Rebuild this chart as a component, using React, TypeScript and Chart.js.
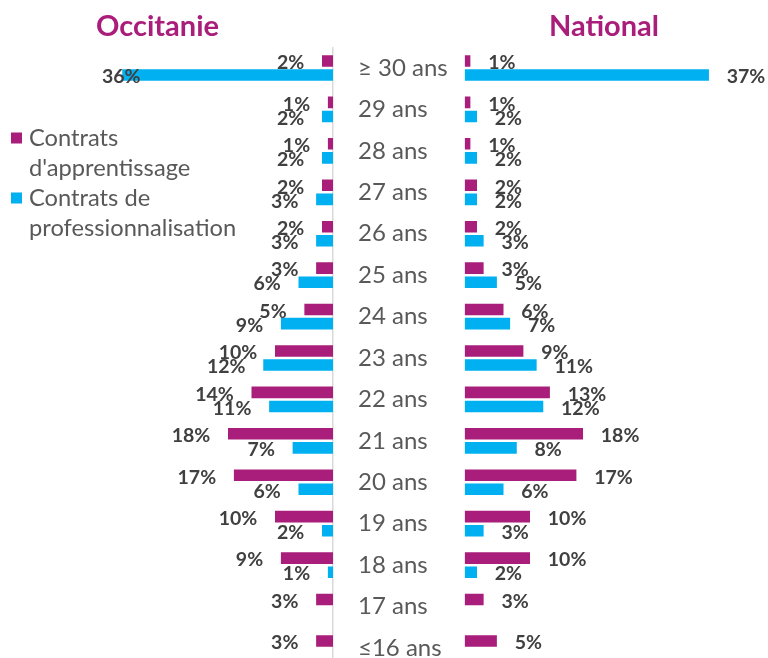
import { useEffect, useRef } from "react";
import { Chart, registerables } from "chart.js";

Chart.register(...registerables);

const categories = [
  "≥ 30 ans", "29 ans", "28 ans", "27 ans", "26 ans", "25 ans", "24 ans", "23 ans",
  "22 ans", "21 ans", "20 ans", "19 ans", "18 ans", "17 ans", "≤16 ans",
];
const seriesLabels = ["Contrats d'apprentissage", "Contrats de professionnalisation"];
const regionTitles = ["Occitanie", "National"];

const occitanieApprentissage = [2, 1, 1, 2, 2, 3, 5, 10, 14, 18, 17, 10, 9, 3, 3];
const occitanieProfessionnalisation = [36, 2, 2, 3, 3, 6, 9, 12, 11, 7, 6, 2, 1, 0, 0];
const nationalApprentissage = [1, 1, 1, 2, 2, 3, 6, 9, 13, 18, 17, 10, 10, 3, 5];
const nationalProfessionnalisation = [37, 2, 2, 2, 3, 5, 7, 11, 12, 8, 6, 3, 2, 0, 0];

const MAGENTA = "#A91E7A";
const CYAN = "#00B0F0";
const LABEL_GAP = 17;
const FONT = "Lato";

const nz = (arr: number[]) => arr.map((v) => (v === 0 ? null : v));

function makeDatasets(a: number[], p: number[]) {
  return [
    {
      label: seriesLabels[0],
      data: nz(a),
      backgroundColor: MAGENTA,
      borderColor: "rgba(255,255,255,0.35)",
      borderWidth: 0.75,
      categoryPercentage: 0.68,
      barPercentage: 0.93,
    },
    {
      label: seriesLabels[1],
      data: nz(p),
      backgroundColor: CYAN,
      borderColor: "rgba(255,255,255,0.35)",
      borderWidth: 0.75,
      categoryPercentage: 0.68,
      barPercentage: 0.93,
    },
  ];
}

function valueLabels(side: "left" | "right") {
  return {
    id: "valueLabels",
    afterDatasetsDraw(chart: any) {
      const ctx = chart.ctx;
      ctx.save();
      ctx.font = `bold 19.5px ${FONT}`;
      ctx.fillStyle = "#404040";
      ctx.textBaseline = "middle";
      chart.data.datasets.forEach((ds: any, di: number) => {
        const meta = chart.getDatasetMeta(di);
        meta.data.forEach((el: any, i: number) => {
          const v = ds.data[i];
          if (v == null) return;
          const text = Math.round(v) + "%";
          const w = ctx.measureText(text).width;
          const { x, y } = el.getProps(["x", "y"], true);
          if (side === "left") {
            const tx = Math.max(x - LABEL_GAP, chart.chartArea.left + 4 + w);
            ctx.textAlign = "right";
            ctx.fillText(text, tx, y + 2);
          } else {
            ctx.textAlign = "left";
            ctx.fillText(text, x + LABEL_GAP, y + 2);
          }
        });
      });
      ctx.restore();
    },
  };
}

function wrapText(ctx: CanvasRenderingContext2D, text: string, maxW: number) {
  const words = text.split(" ");
  const lines: string[] = [];
  let cur = "";
  for (const w of words) {
    const test = cur ? cur + " " + w : w;
    if (ctx.measureText(test).width > maxW && cur) {
      lines.push(cur);
      cur = w;
    } else cur = test;
  }
  if (cur) lines.push(cur);
  return lines;
}

const legendPlugin = {
  id: "sideLegend",
  afterDraw(chart: any) {
    const ctx = chart.ctx;
    ctx.save();
    ctx.font = `23.7px ${FONT}`;
    ctx.textBaseline = "middle";
    ctx.textAlign = "left";
    let y = 138;
    chart.data.datasets.forEach((ds: any) => {
      const lines = wrapText(ctx, ds.label, 222);
      ctx.fillStyle = ds.backgroundColor;
      ctx.fillRect(11, y - 5.5, 11, 11);
      ctx.fillStyle = "#595959";
      lines.forEach((ln, k) => ctx.fillText(ln, 29, y + k * 30));
      y += lines.length * 30;
    });
    ctx.restore();
  },
};

export default function App() {
  const leftRef = useRef<HTMLCanvasElement>(null);
  const rightRef = useRef<HTMLCanvasElement>(null);

  useEffect(() => {
    Chart.defaults.font.family = FONT;
    const left = new Chart(leftRef.current!, {
      type: "bar",
      data: {
        labels: categories,
        datasets: makeDatasets(occitanieApprentissage, occitanieProfessionnalisation) as any,
      },
      options: {
        indexAxis: "y",
        animation: false,
        responsive: false,
        layout: { padding: { left: 98, right: 7, top: 47.3, bottom: 21.3 } },
        scales: {
          x: { display: false, reverse: true, min: 0, max: 40 },
          y: {
            position: "right",
            ticks: { display: false },
            grid: { display: false, drawTicks: false },
            border: { display: true, color: "#D9D9D9", width: 1.5 },
            afterFit: (s: any) => {
              s.width = 0;
            },
          },
        },
        plugins: { legend: { display: false }, tooltip: { enabled: false } },
      } as any,
      plugins: [valueLabels("left"), legendPlugin],
    });

    const right = new Chart(rightRef.current!, {
      type: "bar",
      data: {
        labels: categories,
        datasets: makeDatasets(nationalApprentissage, nationalProfessionnalisation) as any,
      },
      options: {
        indexAxis: "y",
        animation: false,
        responsive: false,
        layout: { padding: { left: 8, right: 0, top: 47.3, bottom: 21.3 } },
        scales: {
          x: { display: false, min: 0, max: 45.8 },
          y: {
            position: "left",
            grid: { display: false, drawTicks: false },
            border: { display: false },
            ticks: {
              crossAlign: "far",
              autoSkip: false,
              padding: 0,
              color: "#595959",
              font: { size: 24, family: FONT },
            },
            afterFit: (s: any) => {
              s.width = 106.5;
            },
          },
        },
        plugins: { legend: { display: false }, tooltip: { enabled: false } },
      } as any,
      plugins: [valueLabels("right")],
    });

    return () => {
      left.destroy();
      right.destroy();
    };
  }, []);

  const titleStyle = {
    position: "absolute" as const,
    top: 8,
    textAlign: "center" as const,
    fontFamily: FONT,
    fontWeight: 700,
    fontSize: 29,
    lineHeight: "34px",
    color: MAGENTA,
  };

  return (
    <div
      style={{
        position: "fixed",
        left: 0,
        top: 0,
        width: 768,
        height: 658,
        overflow: "hidden",
        background: "#fff",
      }}
    >
      <canvas
        ref={leftRef}
        width={340}
        height={690}
        style={{ position: "absolute", left: 0, top: 0, width: 340, height: 690 }}
      />
      <canvas
        ref={rightRef}
        width={418}
        height={690}
        style={{ position: "absolute", left: 350, top: 0, width: 418, height: 690 }}
      />
      <div style={{ ...titleStyle, left: 57.5, width: 200 }}>{regionTitles[0]}</div>
      <div style={{ ...titleStyle, left: 504, width: 200 }}>{regionTitles[1]}</div>
    </div>
  );
}
